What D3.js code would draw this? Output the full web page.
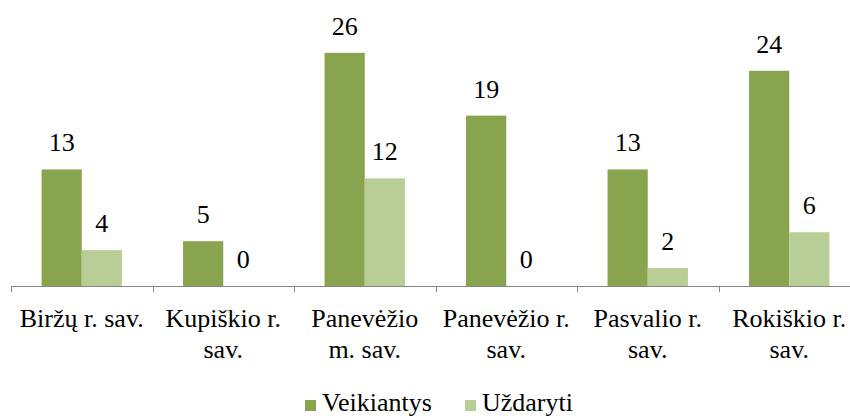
<html>
<head>
<meta charset="utf-8">
<script src="https://cdn.jsdelivr.net/npm/d3@7/dist/d3.min.js"></script>
<style>
  body { margin: 0; background: #fff; }
  svg text { font-family: "Liberation Serif", "Times New Roman", Times, "DejaVu Serif", "Noto Serif", serif; }
</style>
</head>
<body>
<svg id="chart" width="850" height="416"></svg>
<script>
	var categories = ["Biržų r. sav.", "Kupiškio r. sav.", "Panevėžio m. sav.", "Panevėžio r. sav.", "Pasvalio r. sav.", "Rokiškio r. sav."]
	var seriesNames = ["Veikiantys", "Uždaryti"]
	var veikiantys = [13, 5, 26, 19, 13, 24]
	var uzdaryti = [4, 0, 12, 0, 2, 6]
	var colors = ["#88a44e", "#b9ce96"]

	var svg = d3.select("#chart")
	var baseY = 286, topY = 17
	var FONT = 26

	var x0 = d3.scaleBand().domain(categories).range([11, 860]).padding(0)
	var x1 = d3.scaleBand().domain(seriesNames).range([0, x0.bandwidth()]).paddingInner(0).paddingOuter(0.76)
	var y = d3.scaleLinear().domain([0, 30]).range([baseY, topY])

	var rows = categories.map((c, i) => ({ cat: c, vals: [veikiantys[i], uzdaryti[i]] }))

	var groups = svg.selectAll("g.grp").data(rows).enter().append("g")
		.attr("class", "grp")
		.attr("transform", d => "translate(" + x0(d.cat) + ",0)")

	groups.selectAll("rect").data(d => d.vals.map((v, k) => ({ name: seriesNames[k], v: v, k: k })))
		.enter().append("rect")
		.attr("x", d => x1(d.name))
		.attr("width", x1.bandwidth())
		.attr("y", d => y(d.v))
		.attr("height", d => baseY - y(d.v))
		.attr("fill", d => colors[d.k])

	groups.selectAll("text.val").data(d => d.vals.map((v, k) => ({ name: seriesNames[k], v: v })))
		.enter().append("text")
		.attr("class", "val")
		.attr("x", d => x1(d.name) + x1.bandwidth() / 2)
		.attr("y", d => y(d.v) - 18)
		.attr("text-anchor", "middle")
		.attr("font-size", FONT)
		.text(d => d.v)

	// axis line and boundary ticks
	var axis = svg.append("g")
	axis.append("line")
		.attr("x1", x0.range()[0]).attr("x2", x0.range()[1])
		.attr("y1", baseY + 0.5).attr("y2", baseY + 0.5)
		.attr("stroke", "#868686").attr("stroke-width", 1)
	var bounds = categories.map(c => x0(c)).concat([x0.range()[1]])
	axis.selectAll("line.tick").data(bounds).enter().append("line")
		.attr("class", "tick")
		.attr("x1", d => Math.round(d) + 0.5).attr("x2", d => Math.round(d) + 0.5)
		.attr("y1", baseY).attr("y2", baseY + 6)
		.attr("stroke", "#868686")

	// category labels, wrapped like the original
	function wrap(label, maxW) {
		var words = label.split(" "), lines = [], cur = ""
		var probe = svg.append("text").attr("font-size", FONT)
		words.forEach(w => {
			var t = cur ? cur + " " + w : w
			probe.text(t)
			if (cur && probe.node().getComputedTextLength() > maxW) {
				lines.push(cur); cur = w
			} else cur = t
		})
		lines.push(cur)
		probe.remove()
		return lines
	}

	categories.forEach(c => {
		var lines = wrap(c, x0.bandwidth() - 6)
		var cx = x0(c) + x0.bandwidth() / 2
		var t = svg.append("text")
			.attr("text-anchor", "middle")
			.attr("x", cx)
			.attr("y", 327)
			.attr("font-size", FONT)
		lines.forEach((l, i) => {
			t.append("tspan")
				.attr("x", cx)
				.attr("dy", i == 0 ? 0 : 31)
				.text(l)
		})
	})

	// legend
	var legendX = [305, 465]
	seriesNames.forEach((s, k) => {
		svg.append("rect")
			.attr("x", legendX[k]).attr("y", 400)
			.attr("width", 11).attr("height", 11)
			.attr("fill", colors[k])
		svg.append("text")
			.attr("x", legendX[k] + 17).attr("y", 411)
			.attr("font-size", FONT)
			.text(s)
	})
</script>
</body>
</html>
